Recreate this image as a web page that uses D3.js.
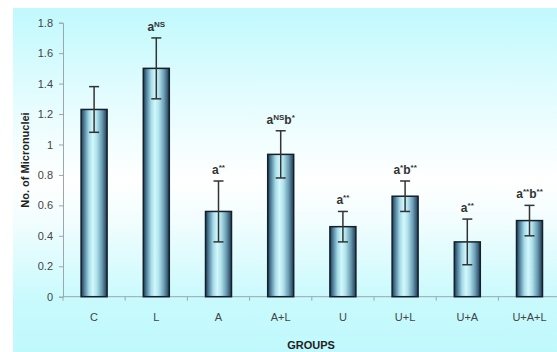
<!DOCTYPE html>
<html><head><meta charset="utf-8">
<script src="https://cdn.jsdelivr.net/npm/d3@7"></script>
<style>html,body{margin:0;padding:0;background:#fff;}svg{display:block;}</style>
</head><body>
<script>
const categories = ["C","L","A","A+L","U","U+L","U+A","U+A+L"];
const values = [1.23, 1.50, 0.56, 0.935, 0.46, 0.66, 0.36, 0.50];
const errors = [0.15, 0.20, 0.20, 0.155, 0.10, 0.10, 0.15, 0.10];
const sigA = ["", "NS", "**", "NS", "**", "*", "**", "**"];
const sigB = ["", "", "", "*", "", "**", "", "**"];
const yTicks = [0,0.2,0.4,0.6,0.8,1,1.2,1.4,1.6,1.8];

const W=557,H=352;
const svg=d3.select("body").append("svg").attr("width",W).attr("height",H);
const defs=svg.append("defs");
const bg=defs.append("linearGradient").attr("id","bg").attr("x1",0).attr("y1",0).attr("x2",0).attr("y2",1);
[[0,"#c0f9fd"],[0.25,"#e2fcfe"],[0.5,"#ffffff"],[0.62,"#f2fdfe"],[0.85,"#c8fafd"],[1,"#c0f9fd"]].forEach(s=>bg.append("stop").attr("offset",s[0]).attr("stop-color",s[1]));
const bar=defs.append("linearGradient").attr("id","bar").attr("x1",0).attr("y1",0).attr("x2",1).attr("y2",0);
[[0,"#1d3a52"],[0.12,"#4f7f9a"],[0.3,"#a6dbe8"],[0.45,"#d2f8fc"],[0.6,"#b0e2ec"],[0.8,"#6a9cb3"],[1,"#1d3a52"]].forEach(s=>bar.append("stop").attr("offset",s[0]).attr("stop-color",s[1]));

svg.append("rect").attr("x",13).attr("y",8).attr("width",W-13).attr("height",H-8).attr("fill","url(#bg)");

const y=d3.scaleLinear().domain([0,1.8]).range([296.7,22.7]);
const x=d3.scaleBand().domain(categories).range([63,560.6]).paddingInner(0).paddingOuter(0);
const bw=26;
const font="Liberation Sans, Arial, sans-serif";

// axes
const yAxis=d3.axisLeft(y).tickValues(yTicks).tickSize(4).tickPadding(6).tickFormat(d=>d3.format("")(d));
const gy=svg.append("g").attr("transform","translate(63,0)").call(yAxis);
gy.select(".domain").attr("stroke","#9aa7ad");
gy.selectAll(".tick line").attr("stroke","#9aa7ad");
gy.selectAll(".tick text").attr("fill","#444").style("font-family",font).style("font-size","11px");

const gx=svg.append("g").attr("transform","translate(0,296.7)");
gx.append("line").attr("x1",63).attr("x2",560).attr("y1",0).attr("y2",0).attr("stroke","#9aa7ad");
const bounds=categories.map(c=>x(c)).concat([x(categories[categories.length-1])+x.bandwidth()]);
gx.selectAll("line.t").data(bounds).join("line").attr("class","t").attr("x1",d=>d).attr("x2",d=>d).attr("y1",0).attr("y2",4).attr("stroke","#9aa7ad");
gx.selectAll("text").data(categories).join("text").attr("x",d=>x(d)+x.bandwidth()/2).attr("y",24)
  .attr("text-anchor","middle").attr("fill","#444").style("font-family",font).style("font-size","11px").text(d=>d);

// bars
const data=categories.map((c,i)=>({c,v:values[i],e:errors[i],a:sigA[i],b:sigB[i]}));
svg.selectAll("rect.bar").data(data).join("rect").attr("class","bar")
  .attr("x",d=>x(d.c)+x.bandwidth()/2-bw/2).attr("width",bw)
  .attr("y",d=>y(d.v)).attr("height",d=>y(0)-y(d.v))
  .attr("fill","url(#bar)").attr("stroke","#15202b").attr("stroke-width",1.5);

// error bars
const eb=svg.selectAll("g.eb").data(data).join("g").attr("class","eb")
  .attr("transform",d=>`translate(${x(d.c)+x.bandwidth()/2},0)`);
eb.append("line").attr("y1",d=>y(d.v-d.e)).attr("y2",d=>y(d.v+d.e)).attr("stroke","#333").attr("stroke-width",1.5);
eb.append("line").attr("x1",-5).attr("x2",5).attr("y1",d=>y(d.v+d.e)).attr("y2",d=>y(d.v+d.e)).attr("stroke","#333").attr("stroke-width",1.5);
eb.append("line").attr("x1",-5).attr("x2",5).attr("y1",d=>y(d.v-d.e)).attr("y2",d=>y(d.v-d.e)).attr("stroke","#333").attr("stroke-width",1.5);

// significance labels
const lab=eb.filter(d=>d.a!=="").append("text").attr("y",d=>y(d.v+d.e)-7)
  .attr("text-anchor","middle").attr("fill","#333")
  .style("font-family",font).style("font-size","12px").style("font-weight","bold");
lab.each(function(d){
  const t=d3.select(this);
  t.append("tspan").text("a");
  t.append("tspan").attr("dy",-4).style("font-size","8px").text(d.a);
  if(d.b){
    t.append("tspan").attr("dy",4).text("b");
    t.append("tspan").attr("dy",-4).style("font-size","8px").text(d.b);
  }
});

// axis titles
svg.append("text").attr("transform","translate(29,160) rotate(-90)").attr("text-anchor","middle")
  .attr("fill","#222").style("font-family",font).style("font-size","11px").style("font-weight","bold").text("No. of Micronuclei");
svg.append("text").attr("x",311).attr("y",349).attr("text-anchor","middle")
  .attr("fill","#222").style("font-family",font).style("font-size","11px").style("font-weight","bold").text("GROUPS");
</script>
</body></html>
